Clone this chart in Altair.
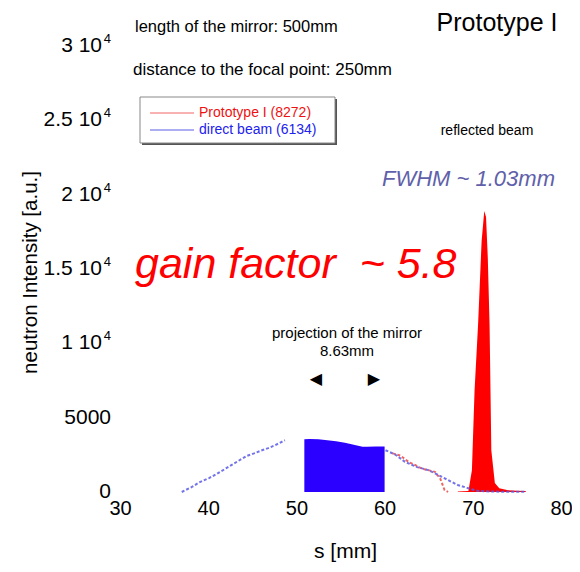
import altair as alt
import pandas as pd

# ---- data ----
# direct beam, measured points left of the mirror projection
direct_left_s = [37.0, 37.5, 38.2, 39.0, 40.1, 41.0, 42.3, 43.3, 44.4, 45.2, 46.1, 46.8, 47.6, 48.7]
direct_left_i = [0, 150, 355, 650, 937, 1230, 1690, 2050, 2430, 2600, 2810, 2950, 3150, 3480]

# direct beam, dense block inside the mirror projection
direct_block_s = [50.9, 51.5, 52.5, 53.5, 54.5, 55.5, 56.5, 57.5, 58.0, 59.0, 59.8, 60.0]
direct_block_i = [3550, 3560, 3540, 3480, 3420, 3320, 3180, 3050, 3040, 3060, 3060, 3060]

# direct beam right of the mirror projection
direct_right_s = [60.1, 61.2, 62.3, 63.6, 64.96, 66.1, 67.2, 68.3, 69.5, 70.5, 72.0, 74.0, 76.0]
direct_right_i = [2810, 2520, 2030, 1690, 1470, 1140, 800, 470, 250, 80, 30, 20, 20]

# Prototype I, tail before the reflected beam
proto_tail_s = [60.9, 61.8, 62.7, 63.5, 64.2, 65.7, 66.3, 66.8, 67.2]
proto_tail_i = [2600, 2450, 2030, 1800, 1580, 1360, 915, 135, 0]

# Prototype I, reflected beam peak
proto_peak_s = [68.3, 69.5, 69.9, 70.2, 70.6, 71.0, 71.3, 71.5, 71.7, 71.9, 72.1, 72.5, 73.0, 74.0, 75.0, 76.0]
proto_peak_i = [40, 60, 1470, 6830, 11290, 16875, 18900, 18500, 15760, 11290, 2810, 600, 250, 120, 80, 60]

y_ticks = [0, 5000, 10000, 15000, 20000, 25000, 30000]
y_tick_main = ["0", "5000", "1 10", "1.5 10", "2 10", "2.5 10", "3 10"]
y_tick_sup = ["", "", "4", "4", "4", "4", "4"]
x_ticks = [30, 40, 50, 60, 70, 80]

FONT = "Liberation Sans"

xs = alt.Scale(domain=[30, 80], nice=False)
ys = alt.Scale(domain=[0, 30000], nice=False)

X = alt.X("s:Q", scale=xs, axis=alt.Axis(values=x_ticks, title="s [mm]", labelPadding=6,
                                           labelFlush=False, labelFontSize=20,
                                           titleX=225, titleY=59, titleBaseline="middle",
                                           titleFontSize=21, titleFontWeight="normal"))
Y = alt.Y("i:Q", scale=ys, axis=alt.Axis(values=y_ticks, labels=False,
                                           title="neutron Intensity [a.u.]",
                                           titleX=-90, titleY=226, titleAngle=270,
                                           titleBaseline="middle", titleAlign="center",
                                           titleFontSize=20.5, titleFontWeight="normal"))

block = alt.Chart(pd.DataFrame({"s": direct_block_s, "i": direct_block_i})).mark_area(
    color="#2b00ff").encode(x=X, y=Y)

peak = alt.Chart(pd.DataFrame({"s": proto_peak_s, "i": proto_peak_i})).mark_area(
    color="#ff0000").encode(x=X, y=Y)

dl = pd.DataFrame({"s": direct_left_s + direct_right_s,
                   "i": direct_left_i + direct_right_i,
                   "seg": ["a"] * len(direct_left_s) + ["b"] * len(direct_right_s)})
direct_lines = alt.Chart(dl).mark_line(color="#5a5ae6", strokeWidth=2, strokeDash=[3, 2],
                                       opacity=0.85).encode(x=X, y=Y, detail="seg:N")

proto_line = alt.Chart(pd.DataFrame({"s": proto_tail_s, "i": proto_tail_i})).mark_line(
    color="#f06464", strokeWidth=2, strokeDash=[3, 2]).encode(x=X, y=Y)

# y tick labels with raised exponent
ytl = pd.DataFrame({"i": y_ticks, "m": y_tick_main, "p": y_tick_sup})
ytl["px"] = [-9 if p == "" else -18 for p in y_tick_sup]
ylab_main = alt.Chart(ytl).mark_text(align="right", baseline="middle", fontSize=21,
                                     font=FONT, color="black").encode(
    x=alt.X("px:Q", scale=None), y=alt.Y("i:Q", scale=ys), text="m:N")
ylab_sup = alt.Chart(ytl).mark_text(align="right", baseline="middle", fontSize=13,
                                    font=FONT, color="black", dy=-7).encode(
    x=alt.value(-9), y=alt.Y("i:Q", scale=ys), text="p:N")

one = pd.DataFrame({"k": [0]})


def txt(s, x, y, size, color="black", align="left", style="normal", font=FONT):
    return alt.Chart(pd.DataFrame({"t": [s]})).mark_text(
        align=align, baseline="middle", fontSize=size, font=font, fontStyle=style,
        color=color).encode(x=alt.value(x), y=alt.value(y), text="t:N")


shadow = alt.Chart(one).mark_rect(fill="#555555").encode(
    x=alt.value(22), x2=alt.value(217), y=alt.value(53), y2=alt.value(99))
box = alt.Chart(one).mark_rect(fill="white", stroke="#888888", strokeWidth=1).encode(
    x=alt.value(20), x2=alt.value(215), y=alt.value(51), y2=alt.value(97))
leg_red = alt.Chart(one).mark_rule(color="#f06464", strokeWidth=1).encode(
    x=alt.value(30), x2=alt.value(74), y=alt.value(67))
leg_blue = alt.Chart(one).mark_rule(color="#5a5ae6", strokeWidth=1).encode(
    x=alt.value(30), x2=alt.value(74), y=alt.value(84))

texts = [
    txt("length of the mirror: 500mm", 15, -19, 16.5),
    txt("distance to the focal point: 250mm", 13, 24, 17),
    txt("Prototype I", 377, -23, 25, align="center"),
    txt("Prototype I (8272)", 79, 67, 14, color="#ee1111"),
    txt("direct beam (6134)", 79, 84, 14, color="#2222ee"),
    txt("reflected beam", 367, 85, 14, align="center"),
    txt("FWHM ~ 1.03mm", 262, 133, 22, color="#6060aa", style="italic"),
    txt("gain factor \u00a0~ 5.8", 15, 219, 43, color="#ff0000", style="italic"),
    txt("projection of the mirror", 227, 287, 15, align="center"),
    txt("8.63mm", 227, 305, 15, align="center"),
    txt("◀", 196, 333, 16, align="center", font="DejaVu Sans"),
    txt("▶", 254, 333, 16, align="center", font="DejaVu Sans"),
]

chart = alt.layer(block, peak, proto_line, direct_lines, ylab_main, ylab_sup,
                  shadow, box, leg_red, leg_blue, *texts).properties(
    width=441, height=446,
    autosize=alt.AutoSizeParams(type="none"),
    padding={"left": 112, "top": 38, "right": 11, "bottom": 72},
).configure_view(stroke=None).configure_axis(
    domain=False, ticks=False, grid=False, labelFont=FONT, labelFontSize=20,
    labelColor="black", titleFont=FONT, titleColor="black"
)

chart.save("out.html", embed_options={"renderer": "svg", "actions": False})
